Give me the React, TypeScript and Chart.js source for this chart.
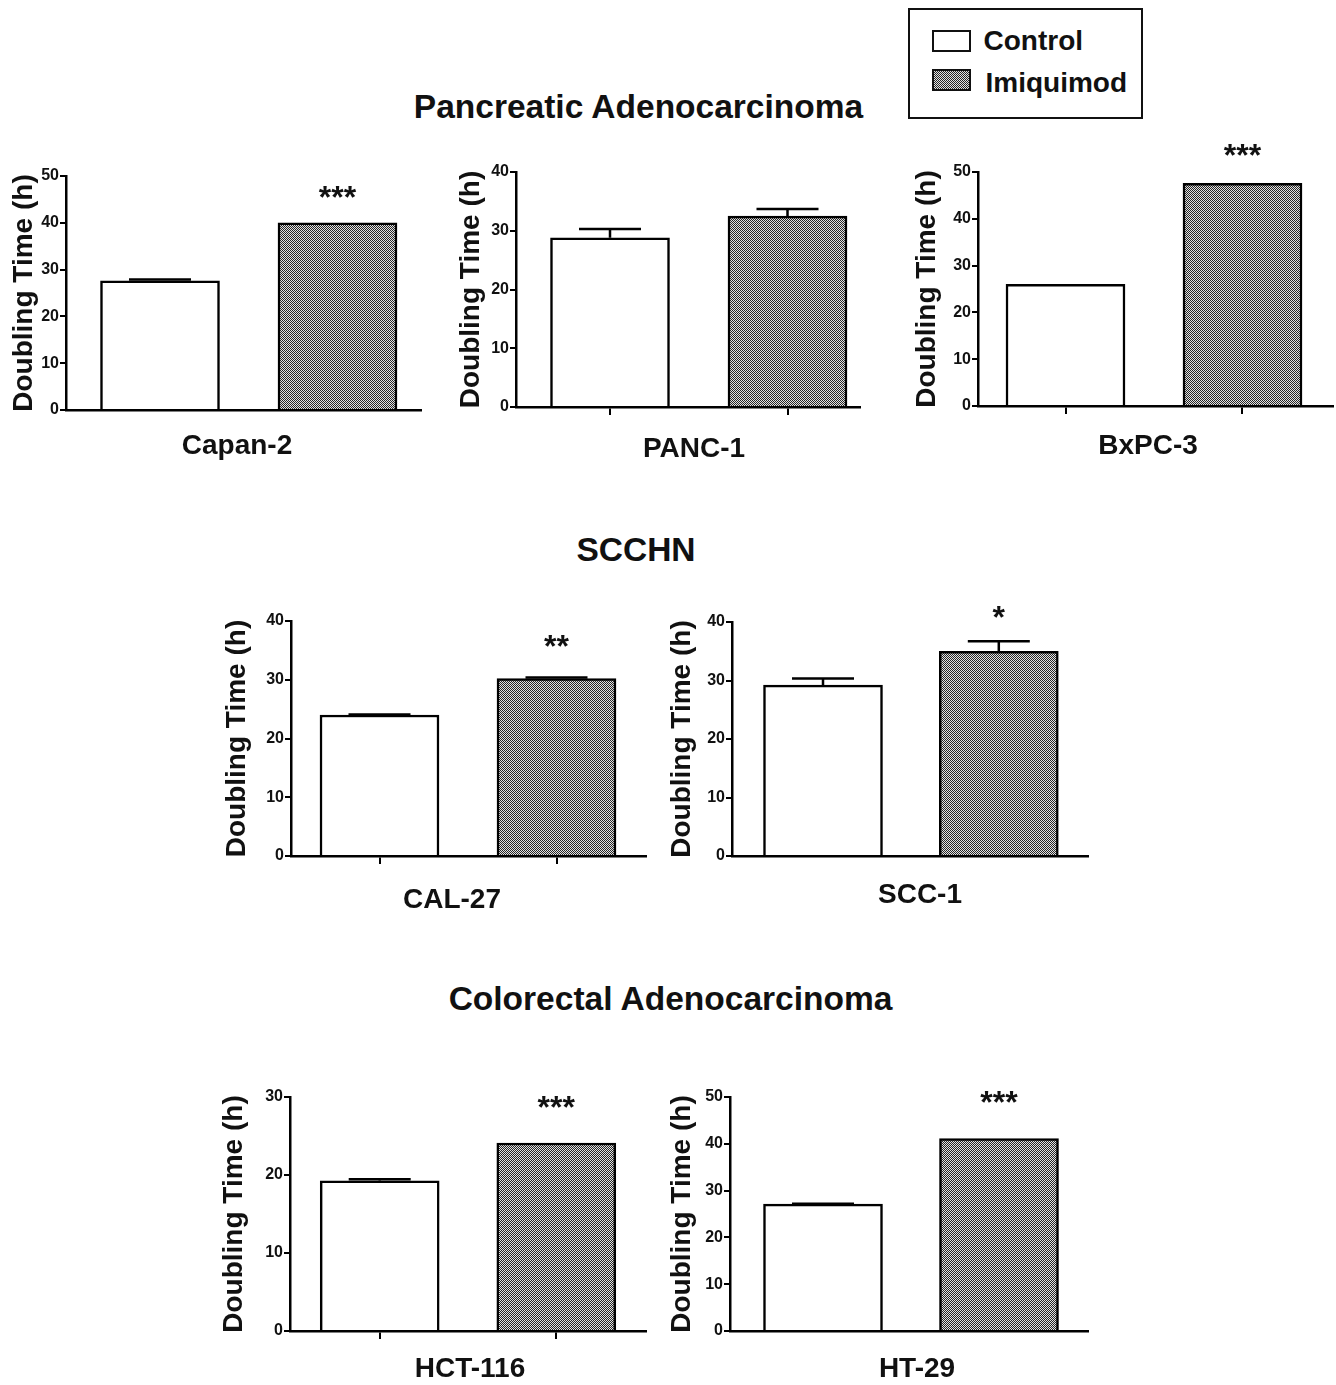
import React, { useEffect, useRef } from 'react';
import { Chart, registerables } from 'chart.js';

Chart.register(...registerables);

const FONT = "'Liberation Sans', Arial, Helvetica, sans-serif";

// ---------------- data ----------------
const seriesNames = ['Control', 'Imiquimod'];
const cellLines = ['Capan-2', 'PANC-1', 'BxPC-3', 'CAL-27', 'SCC-1', 'HCT-116', 'HT-29'];
const controlMeans = [27.6, 28.8, 26.0, 24.0, 29.2, 19.25, 27.1];
const controlErrors = [0.3, 1.5, 0, 0.1, 1.15, 0.2, 0.1];
const imiquimodMeans = [40.0, 32.5, 47.6, 30.2, 35.0, 24.1, 41.1];
const imiquimodErrors = [0, 1.2, 0, 0.2, 1.7, 0, 0];
const significance = ['***', '', '***', '**', '*', '***', '***'];
const yAxisMax = [50, 40, 50, 40, 40, 30, 50];
const yTickStep = [10, 10, 10, 10, 10, 10, 10];
const yAxisTitle = 'Doubling Time (h)';
const groupTitles = ['Pancreatic Adenocarcinoma', 'SCCHN', 'Colorectal Adenocarcinoma'];

// ---------------- layout (page pixels) ----------------
type PanelLayout = {
  axisX: number; topY: number; bottomY: number; axisEnd: number;
  c1: number; c2: number; tickMarks: boolean; titleDist: number;
  labelX: number; labelY: number; starY: number;
};
const panelLayout: PanelLayout[] = [
  { axisX: 66, topY: 176, bottomY: 410, axisEnd: 421, c1: 160, c2: 337.5, tickMarks: false, titleDist: 41.5, labelX: 237, labelY: 446, starY: 190 },
  { axisX: 516, topY: 172, bottomY: 407, axisEnd: 860, c1: 610, c2: 787.5, tickMarks: true, titleDist: 44.5, labelX: 694, labelY: 449, starY: 0 },
  { axisX: 978, topY: 172, bottomY: 406, axisEnd: 1333, c1: 1065.5, c2: 1242.5, tickMarks: true, titleDist: 51, labelX: 1148, labelY: 446, starY: 148 },
  { axisX: 291, topY: 621, bottomY: 856, axisEnd: 646, c1: 379.5, c2: 556.5, tickMarks: true, titleDist: 53.5, labelX: 452, labelY: 900, starY: 639 },
  { axisX: 732, topY: 621.5, bottomY: 855.7, axisEnd: 1088, c1: 823, c2: 998.8, tickMarks: false, titleDist: 49.5, labelX: 920, labelY: 895, starY: 610 },
  { axisX: 290, topY: 1097, bottomY: 1331, axisEnd: 646, c1: 379.7, c2: 556.3, tickMarks: true, titleDist: 56, labelX: 470, labelY: 1369, starY: 1100 },
  { axisX: 730, topY: 1097, bottomY: 1331, axisEnd: 1088, c1: 823, c2: 999, tickMarks: false, titleDist: 47.5, labelX: 917, labelY: 1369, starY: 1095 },
];
const groupTitleLayout = [
  { x: 638.5, y: 106 },
  { x: 636, y: 549 },
  { x: 670.5, y: 998 },
];

function makePattern(ctx: CanvasRenderingContext2D) {
  const c = document.createElement('canvas');
  c.width = 2; c.height = 2;
  const g = c.getContext('2d')!;
  g.fillStyle = '#e2e2e2';
  g.fillRect(0, 0, 2, 2);
  g.fillStyle = '#262626';
  g.fillRect(0, 0, 1, 1);
  g.fillRect(1, 1, 1, 1);
  return ctx.createPattern(c, 'repeat')!;
}

function BarPanel({ index }: { index: number }) {
  const ref = useRef<HTMLCanvasElement>(null);
  const L = panelLayout[index];
  const W = 80, T = 60, H = 75, R = 4;
  const left = L.axisX - W;
  const top = L.topY - T;
  const width = Math.round(W + (L.axisEnd - L.axisX) + R);
  const height = Math.round(T + (L.bottomY - L.topY) + H);

  useEffect(() => {
    const canvas = ref.current!;
    const ctx = canvas.getContext('2d')!;
    const pattern = makePattern(ctx);
    const u = L.c2 - L.c1;
    const xMin = 1 - (L.c1 - L.axisX) / u;
    const xMax = 2 + (L.axisEnd - L.c2) / u;
    const means = [controlMeans[index], imiquimodMeans[index]];
    const errs = [controlErrors[index], imiquimodErrors[index]];

    const annot = {
      id: 'annot',
      afterDatasetsDraw(chart: any) {
        const c = chart.ctx as CanvasRenderingContext2D;
        const ys = chart.scales.y;
        c.save();
        c.strokeStyle = '#000';
        c.lineWidth = 2.5;
        for (let i = 0; i < 2; i++) {
          if (!(errs[i] > 0)) continue;
          const bar = chart.getDatasetMeta(i).data[0];
          const x = bar.x;
          const y0 = ys.getPixelForValue(means[i]);
          const y1 = ys.getPixelForValue(means[i] + errs[i]);
          c.beginPath();
          c.moveTo(x, y0);
          c.lineTo(x, y1);
          c.moveTo(x - 31, y1);
          c.lineTo(x + 31, y1);
          c.stroke();
        }
        c.restore();
      },
      afterDraw(chart: any) {
        const c = chart.ctx as CanvasRenderingContext2D;
        const area = chart.chartArea;
        c.save();
        c.fillStyle = '#111';
        c.font = `bold 28px ${FONT}`;
        c.textAlign = 'center';
        c.textBaseline = 'middle';
        c.translate(area.left - L.titleDist, (area.top + area.bottom) / 2);
        c.rotate(-Math.PI / 2);
        c.fillText(yAxisTitle, 0, 0);
        c.restore();
        c.save();
        c.fillStyle = '#111';
        c.font = `bold 28px ${FONT}`;
        c.textAlign = 'center';
        c.textBaseline = 'middle';
        c.fillText(cellLines[index], L.labelX - left, L.labelY - top);
        if (significance[index]) {
          const bar = chart.getDatasetMeta(1).data[0];
          c.font = `bold 32px ${FONT}`;
          c.textBaseline = 'alphabetic';
          c.fillText(significance[index], bar.x, L.starY - top + 0.555 * 32);
        }
        c.restore();
      },
    };

    const chart = new Chart(canvas, {
      type: 'bar',
      data: {
        datasets: [
          {
            label: seriesNames[0],
            data: [{ x: 1, y: means[0] }],
            backgroundColor: '#ffffff',
            borderColor: '#000',
            borderWidth: 2.5,
            barThickness: 119,
            grouped: false,
            borderSkipped: 'bottom',
          } as any,
          {
            label: seriesNames[1],
            data: [{ x: 2, y: means[1] }],
            backgroundColor: pattern,
            borderColor: '#000',
            borderWidth: 2.5,
            barThickness: 119,
            grouped: false,
            borderSkipped: 'bottom',
          } as any,
        ],
      },
      options: {
        responsive: false,
        animation: false,
        devicePixelRatio: 1,
        layout: { padding: { left: 0, top: T, right: R, bottom: 0 } },
        plugins: {
          legend: { display: false },
          tooltip: { enabled: false },
          title: { display: false },
        },
        scales: {
          x: {
            type: 'linear',
            min: xMin,
            max: xMax,
            offset: false,
            z: 1,
            afterBuildTicks: (s: any) => { s.ticks = [{ value: 1 }, { value: 2 }]; },
            afterFit: (s: any) => { s.height = H; },
            ticks: { display: false },
            grid: {
              display: L.tickMarks,
              offset: false,
              drawOnChartArea: false,
              drawTicks: true,
              tickLength: 8,
              color: '#000',
              lineWidth: 2,
            },
            border: { display: true, color: '#000', width: 2.5 },
          } as any,
          y: {
            min: 0,
            max: yAxisMax[index],
            afterFit: (s: any) => { s.width = W; },
            ticks: {
              stepSize: yTickStep[index],
              color: '#111',
              font: { family: FONT, size: 16, weight: 'bold' },
              padding: 1,
            },
            grid: {
              drawOnChartArea: false,
              drawTicks: true,
              tickLength: 6,
              color: '#000',
              lineWidth: 2,
            },
            border: { display: true, color: '#000', width: 2.5 },
          } as any,
        },
      } as any,
      plugins: [annot],
    });
    return () => chart.destroy();
  }, []);

  return (
    <canvas
      ref={ref}
      width={width}
      height={height}
      style={{ position: 'absolute', left, top, width, height }}
    />
  );
}

function TextAt({ text, cx, cy, size, align = 'center' }: { text: string; cx: number; cy: number; size: number; align?: 'center' | 'left' }) {
  const style: React.CSSProperties = {
    position: 'absolute',
    top: cy - 0.488 * size,
    fontFamily: FONT,
    fontWeight: 'bold',
    fontSize: size,
    lineHeight: `${size}px`,
    color: '#111',
    whiteSpace: 'nowrap',
  };
  if (align === 'center') {
    style.left = cx - 400;
    style.width = 800;
    style.textAlign = 'center';
  } else {
    style.left = cx;
  }
  return <div style={style}>{text}</div>;
}

function Legend() {
  const swatchBase: React.CSSProperties = {
    position: 'absolute',
    left: 932,
    width: 39,
    height: 22,
    boxSizing: 'border-box',
    border: '2px solid #111',
  };
  return (
    <>
      <div style={{ position: 'absolute', left: 908, top: 8, width: 235, height: 111, boxSizing: 'border-box', border: '2.5px solid #111', background: '#fff' }} />
      <div style={{ ...swatchBase, top: 30, background: '#fff' }} />
      <div
        style={{
          ...swatchBase,
          top: 69,
          backgroundColor: '#e2e2e2',
          backgroundImage: 'repeating-conic-gradient(#262626 0 25%, #e2e2e2 0 50%)',
          backgroundSize: '2px 2px',
        }}
      />
      <TextAt text={seriesNames[0]} cx={983.5} cy={41} size={28} align="left" />
      <TextAt text={seriesNames[1]} cx={985.5} cy={83} size={28} align="left" />
    </>
  );
}

export default function App() {
  return (
    <div style={{ position: 'absolute', left: 0, top: 0, width: 1336, height: 1385, background: '#fff', overflow: 'hidden' }}>
      {groupTitles.map((t, i) => (
        <TextAt key={t} text={t} cx={groupTitleLayout[i].x} cy={groupTitleLayout[i].y} size={33.5} />
      ))}
      <Legend />
      {cellLines.map((_, i) => (
        <BarPanel key={i} index={i} />
      ))}
    </div>
  );
}
